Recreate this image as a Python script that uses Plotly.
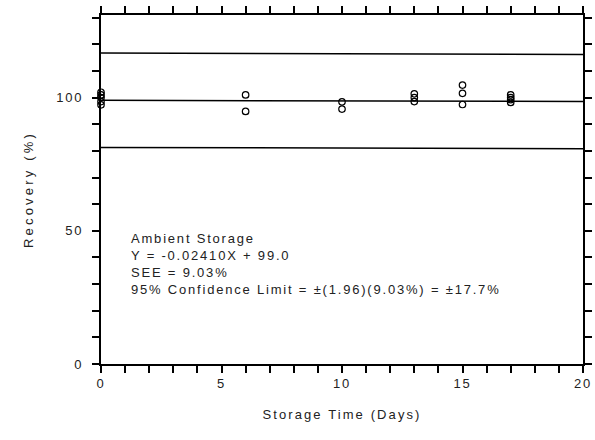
import plotly.graph_objects as go

# Data
days = [0, 0, 0, 0, 0, 6, 6, 10, 10, 13, 13, 13, 15, 15, 15, 17, 17, 17, 17]
recovery = [102, 101, 100, 98.5, 97.3, 101, 94.8, 98.4, 95.7, 101.4, 100, 98.5,
            104.7, 101.6, 97.4, 101, 100, 99.2, 98.2]

slope = -0.02410
intercept = 99.0
conf_limit = 17.7
line_x = [0, 20]

reg_y = [intercept + slope * x for x in line_x]
upper_y = [intercept + conf_limit + slope * x for x in line_x]
lower_y = [intercept - conf_limit + slope * x for x in line_x]

x_tick_positions = list(range(0, 21))          # one tick per day
x_tick_labels = {0: "0", 5: "5", 10: "10", 15: "15", 20: "20"}
y_tick_positions = list(range(0, 131, 10))     # one tick per 10 %
y_tick_labels = {0: "0", 50: "50", 100: "100"}

annotation_lines = [
    "Ambient Storage",
    "Y = -0.02410X + 99.0",
    "SEE = 9.03%",
    "95% Confidence Limit = \u00b1(1.96)(9.03%) = \u00b117.7%",
]

FONT = "Liberation Sans, Arial, sans-serif"


def spaced(t, px=1.7):
    return f'<span style="letter-spacing:{px}px">{t}</span>'


fig = go.Figure()
for ys in (upper_y, reg_y, lower_y):
    fig.add_trace(go.Scatter(x=line_x, y=ys, mode="lines",
                             line=dict(color="black", width=1.5),
                             showlegend=False, hoverinfo="skip"))
fig.add_trace(go.Scatter(x=days, y=recovery, mode="markers",
                         marker=dict(symbol="circle-open", size=6.5, color="black",
                                     line=dict(width=1.2, color="black")),
                         showlegend=False, cliponaxis=False))

fig.add_annotation(
    x=0.058, y=0.388, xref="paper", yref="paper", xanchor="left", yanchor="top",
    text="<br>".join(spaced(t, 1.8) for t in annotation_lines), showarrow=False, align="left",
    font=dict(family=FONT, size=13, color="#222"),
)

axis_common = dict(
    showline=True, linecolor="black", linewidth=1.5, mirror="allticks",
    ticks="outside", ticklen=7, tickwidth=1.5, tickcolor="black",
    showgrid=False, zeroline=False, automargin=False,
    tickfont=dict(family=FONT, size=13, color="#222"),
)

fig.update_xaxes(
    range=[0, 20], tickmode="array", tickvals=x_tick_positions,
    ticktext=[spaced(x_tick_labels[v]) if v in x_tick_labels else "" for v in x_tick_positions],
    title=dict(text=spaced("Storage Time (Days)", 2.1), font=dict(family=FONT, size=13, color="#222"), standoff=20),
    **axis_common,
)
fig.update_yaxes(
    range=[0, 131], tickmode="array", tickvals=y_tick_positions,
    ticktext=[spaced(y_tick_labels[v]) + "\u2002" if v in y_tick_labels else "" for v in y_tick_positions],
    title=dict(text=spaced("Recovery (%)", 3.2), font=dict(family=FONT, size=13, color="#222"), standoff=20),
    **axis_common,
)

fig.update_layout(
    width=595, height=440,
    margin=dict(l=101, r=12, t=15, b=76),
    plot_bgcolor="white", paper_bgcolor="white",
)

# remove the default 8px page margin so the figure fills the window exactly
fig.write_html(
    "out.html",
    config={"displayModeBar": False},
    post_script="document.body.style.margin='0';document.body.style.overflow='hidden';",
)
